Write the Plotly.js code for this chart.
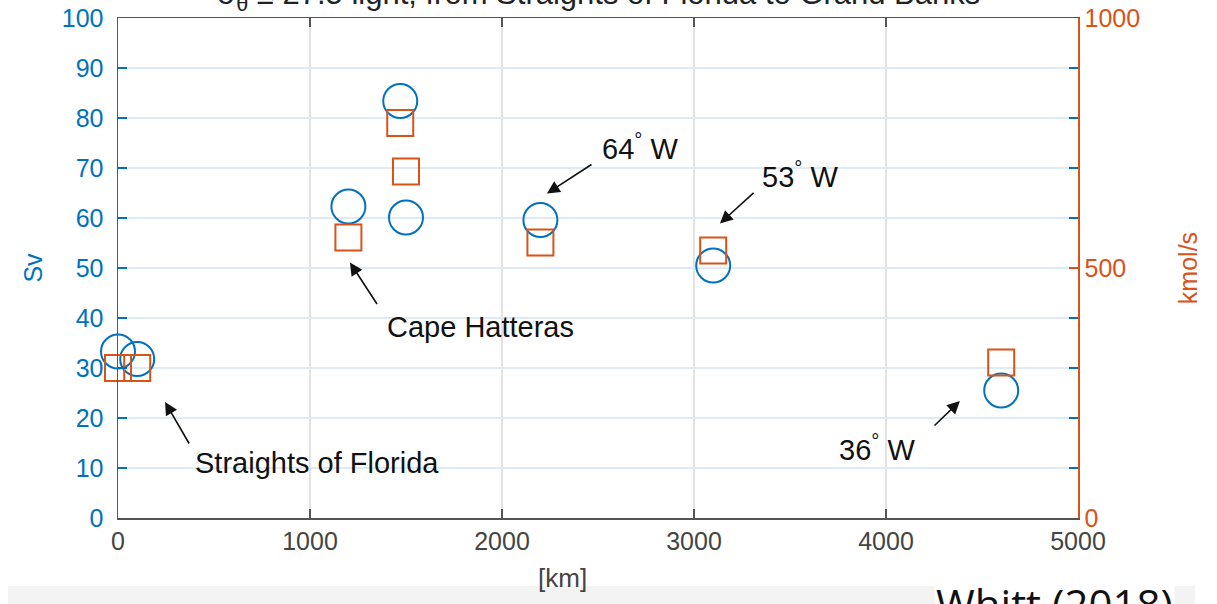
<!DOCTYPE html>
<html>
<head>
<meta charset="utf-8">
<script src="https://cdn.plot.ly/plotly-3.0.1.min.js"></script>
<style>html,body{margin:0;padding:0;background:#fff;}#chart{width:1217px;height:604px;}</style>
</head>
<body>
<div id="chart"></div>
<script>
// Distance along the path [km]
const distKm = [0, 100, 1200, 1470, 1500, 2200, 3100, 4600];
// Volume transport [Sv]
const transportSv = [33.3, 31.8, 62.3, 83.4, 60.1, 59.6, 50.5, 25.5];
// Distance for tracer transport [km]
const distKmB = [0, 100, 1200, 1470, 1500, 2200, 3100, 4600];
// Tracer transport [kmol/s]
const transportKmol = [300, 300, 561, 790, 693, 551, 535, 311];

const xTicks = [0, 1000, 2000, 3000, 4000, 5000];
const leftTicks = [0, 10, 20, 30, 40, 50, 60, 70, 80, 90, 100];
const rightTicks = [0, 500, 1000];

// Annotation labels
const labelTexts = ["Straights of Florida", "Cape Hatteras", "64<sup>°</sup> W", "53<sup>°</sup> W", "36<sup>°</sup> W"];
const labelX = [390, 1390, 2510, 3344, 3745];
const labelY = [11.0, 38.3, 74.3, 68.7, 14.0];
const headX = [245, 1208, 2234, 3135, 4385];
const headY = [23.2, 51.1, 64.9, 58.9, 23.4];
const tailX = [375, 1354, 2474, 3318, 4245];
const tailY = [14.6, 42.5, 70.9, 65.3, 18.2];

const BLUE = '#0072BD';
const ORANGE = '#D95319';
const FONT = 'Liberation Sans, Arial, sans-serif';

const traces = [
  {
    x: distKm, y: transportSv, type: 'scatter', mode: 'markers', yaxis: 'y', cliponaxis: false,
    marker: {symbol: 'circle-open', size: 34, color: BLUE, line: {width: 2, color: BLUE}},
    hoverinfo: 'skip', showlegend: false
  },
  {
    x: distKmB, y: transportKmol, type: 'scatter', mode: 'markers', yaxis: 'y2', cliponaxis: false,
    marker: {symbol: 'square-open', size: 26, color: ORANGE, line: {width: 2, color: ORANGE}},
    hoverinfo: 'skip', showlegend: false
  }
];

const annotations = [];
for (let i = 0; i < labelTexts.length; i++) {
  annotations.push({
    x: headX[i], y: headY[i], ax: tailX[i], ay: tailY[i], xref: 'x', yref: 'y', axref: 'x', ayref: 'y',
    text: '', showarrow: true, arrowhead: 2, arrowsize: 1.6, arrowwidth: 1.6, arrowcolor: '#111', standoff: 0
  });
  annotations.push({
    x: labelX[i], y: labelY[i], xref: 'x', yref: 'y', xanchor: 'left', yanchor: 'middle',
    text: labelTexts[i], showarrow: false, font: {family: FONT, size: 29, color: '#111'}
  });
}
// cut-off title
annotations.push({
  x: 0.5, y: (518 - 18) / 500, xref: 'paper', yref: 'paper', xanchor: 'center', yanchor: 'bottom',
  text: 'σ<sub>θ</sub> ≤ 27.5 light, from Straights of Florida to Grand Banks',
  showarrow: false, font: {family: FONT, size: 31, color: '#222'}
});
// x axis title
annotations.push({
  x: (562 - 118) / 960, y: (518 - 578) / 500, xref: 'paper', yref: 'paper', xanchor: 'center', yanchor: 'middle',
  text: '[km]', showarrow: false, font: {family: FONT, size: 26, color: '#444'}
});
// source note
annotations.push({
  x: (934 - 118) / 960, y: (518 - 573) / 500, xref: 'paper', yref: 'paper', xanchor: 'left', yanchor: 'top',
  text: 'Whitt (2018)', showarrow: false, bgcolor: '#ffffff',
  font: {family: 'Open Sans, DejaVu Sans, sans-serif', size: 42, color: '#111'}
});

const layout = {
  width: 1217, height: 604,
  margin: {l: 118, r: 139, t: 18, b: 86},
  paper_bgcolor: '#ffffff', plot_bgcolor: '#ffffff',
  showlegend: false,
  font: {family: FONT},
  xaxis: {
    range: [0, 5000], tickvals: xTicks, ticktext: xTicks.map(String),
    ticks: 'inside', ticklen: 9, tickcolor: '#555', tickwidth: 1.2,
    showline: true, linecolor: '#555', linewidth: 1.5, mirror: 'ticks',
    showgrid: true, gridcolor: '#e2e2e2', gridwidth: 1.5, zeroline: false,
    tickfont: {family: FONT, size: 25, color: '#444'}
  },
  yaxis: {
    range: [0, 100], tickvals: leftTicks, ticktext: leftTicks.map(String),
    ticks: 'inside', ticklen: 9, tickcolor: BLUE, tickwidth: 1.5,
    showline: true, linecolor: BLUE, linewidth: 1.5, mirror: 'ticks',
    showgrid: true, gridcolor: '#dcebf6', gridwidth: 1.5, zeroline: false,
    ticklabelstandoff: 8,
    tickfont: {family: FONT, size: 25, color: BLUE},
    title: {text: 'Sv', font: {family: FONT, size: 25, color: BLUE}, standoff: 12}
  },
  yaxis2: {
    range: [0, 1000], tickvals: rightTicks, ticktext: rightTicks.map(String),
    overlaying: 'y', side: 'right',
    ticks: 'inside', ticklen: 9, tickcolor: ORANGE, tickwidth: 1.5,
    showline: true, linecolor: ORANGE, linewidth: 1.5,
    showgrid: false, zeroline: false,
    tickfont: {family: FONT, size: 25, color: ORANGE},
    title: {text: 'kmol/s', font: {family: FONT, size: 25, color: ORANGE}, standoff: 40}
  },
  shapes: [
    {type: 'rect', xref: 'paper', yref: 'paper', x0: (8 - 118) / 960, x1: (1195 - 118) / 960,
     y0: (518 - 586) / 500, y1: (518 - 610) / 500, fillcolor: '#f3f3f3', line: {width: 0}, layer: 'below'}
  ],
  annotations: annotations
};

Plotly.newPlot('chart', traces, layout, {staticPlot: true, displayModeBar: false});
</script>
</body>
</html>
